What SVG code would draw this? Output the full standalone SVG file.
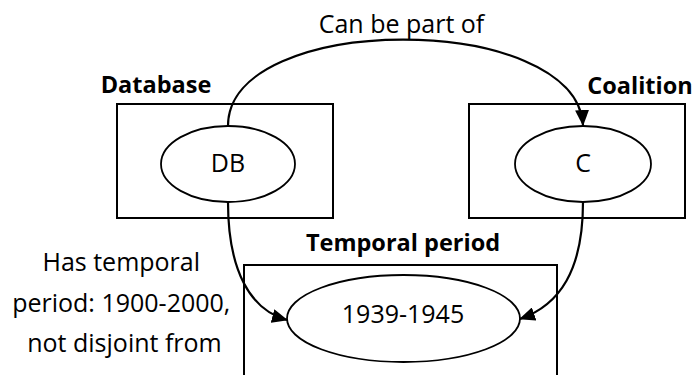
<svg xmlns="http://www.w3.org/2000/svg" width="698" height="375" viewBox="0 0 698 375">
  <style>
    text { font-family: "Open Sans", "Liberation Sans", sans-serif; fill: #000; }
    .lbl { font-size: 25px; }
    .title { font-size: 23.5px; font-weight: bold; }
    .box { fill: #fff; stroke: #000; stroke-width: 2; }
    .ell { fill: #fff; stroke: #000; stroke-width: 1.8; }
    .edge { fill: none; stroke: #000; stroke-width: 2.2; marker-end: url(#arrow); }
  </style>
  <defs>
    <marker id="arrow" markerUnits="userSpaceOnUse" markerWidth="16" markerHeight="14" refX="15" refY="7" orient="auto">
      <path d="M0,0 L16,7 L0,14 Z" fill="#000"/>
    </marker>
  </defs>
  <rect width="698" height="375" fill="#fff"/>

  <g id="temporal-period">
    <rect class="box" x="244" y="265" width="313" height="120"/>
    <text class="title" x="403" y="251" text-anchor="middle">Temporal period</text>
    <ellipse class="ell" cx="403.5" cy="318.5" rx="116.5" ry="43.5"/>
    <text class="lbl" x="403" y="323" text-anchor="middle">1939-1945</text>
  </g>

  <g id="database">
    <rect class="box" x="117" y="104" width="216" height="114"/>
    <text class="title" x="156" y="93" text-anchor="middle">Database</text>
    <ellipse class="ell" cx="228" cy="164" rx="67" ry="38"/>
    <text class="lbl" x="228" y="172" text-anchor="middle">DB</text>
  </g>

  <g id="coalition">
    <rect class="box" x="469" y="104" width="216" height="114"/>
    <text class="title" x="640" y="94" text-anchor="middle">Coalition</text>
    <ellipse class="ell" cx="583" cy="164" rx="68" ry="38"/>
    <text class="lbl" x="583" y="172" text-anchor="middle">C</text>
  </g>

  <g id="connectors">
    <path class="edge" d="M228,126 C228,11 576,11 583,125"/>
    <text class="lbl" x="401.5" y="33" text-anchor="middle">Can be part of</text>
    <path class="edge" d="M228,202 C228,270 250,310 287,320"/>
    <path class="edge" d="M583,202 C583,270 560,305 520,319"/>
    <text class="lbl" text-anchor="middle">
      <tspan x="124.5" y="271">Has temporal</tspan>
      <tspan x="124.5" y="312">period: 1900-2000,</tspan>
      <tspan x="124.5" y="352">not disjoint from</tspan>
    </text>
  </g>
</svg>
